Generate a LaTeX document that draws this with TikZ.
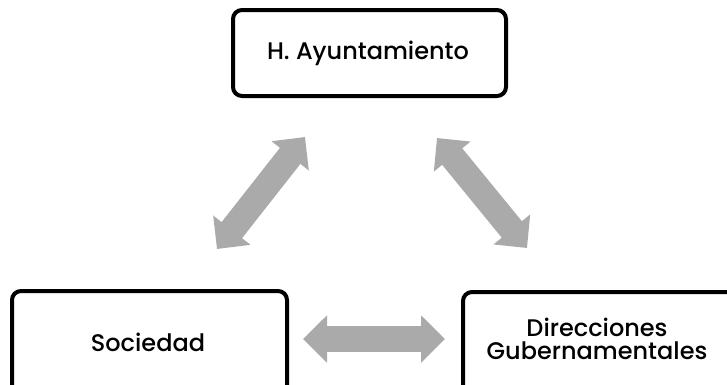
\documentclass[tikz,border=0pt]{standalone}
\usepackage{fontspec}
\setmainfont{Poppins}[UprightFont=*-Medium,BoldFont=*-SemiBold]
\usetikzlibrary{arrows.meta}
\definecolor{arrowgray}{RGB}{170,170,170}
\tikzset{
  box/.style={draw=black, line width=4pt, rounded corners=9pt, fill=white},
  label/.style={align=center, inner sep=0pt, font=\fontsize{24}{23.5}\selectfont},
  dblarrow/.style={draw=arrowgray, line width=26pt,
    {Triangle[width=46pt,length=24pt]}-{Triangle[width=46pt,length=24pt]}}
}
\begin{document}
\begin{tikzpicture}[x=1pt,y=-1pt]
\useasboundingbox (0,0) rectangle (727,384);
\clip (0,0) rectangle (727,384);
\draw[box] (233,10) rectangle (506,96);
\node[label] (ayto) at (368,53) {H. Ayuntamiento};
\draw[box] (12,291) rectangle (287,400);
\node[label] (soc) at (148,342) {Sociedad};
\draw[box] (463,292) rectangle (740,400);
\node[label] (dir) at (597,339) {Direcciones\\Gubernamentales};
\coordinate (a1) at (305,137);
\coordinate (a2) at (217,249);
\coordinate (b1) at (437,138);
\coordinate (b2) at (527,248);
\coordinate (c1) at (303,339);
\coordinate (c2) at (445,339);
\draw[dblarrow] (a2) -- (a1);
\draw[dblarrow] (b1) -- (b2);
\draw[dblarrow] (c1) -- (c2);
\end{tikzpicture}
\end{document}
